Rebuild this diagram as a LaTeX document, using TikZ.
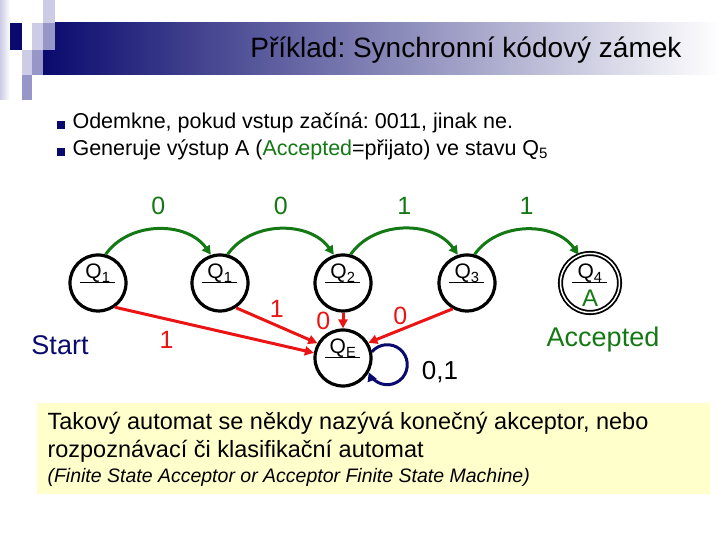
\documentclass[tikz,border=0pt]{standalone}
\usepackage{fontspec}
\setmainfont{Liberation Sans}
\usetikzlibrary{arrows.meta}

\definecolor{navy}{RGB}{10,10,110}
\definecolor{bandmid}{RGB}{175,175,200}
\definecolor{accgreen}{RGB}{20,120,20}
\definecolor{errred}{RGB}{235,20,20}
\definecolor{lav}{RGB}{204,204,230}
\definecolor{midlav}{RGB}{150,150,200}
\definecolor{notebg}{RGB}{255,255,204}
\newcommand{\fsz}[1]{\fontsize{#1}{#1}\selectfont}
\frenchspacing

\begin{document}
\begin{tikzpicture}[x=1pt,y=1pt,
    qstate/.style={circle,draw,line width=3.2pt,minimum size=56pt,inner sep=0pt},
    qtxt/.style={anchor=base,inner sep=0pt,font=\fsz{21}},
    gostep/.style={accgreen,line width=3pt,-{Triangle[length=9pt,width=9pt]}},
    failstep/.style={errred,line width=3pt,-{Triangle[length=9pt,width=9pt]}},
    glab/.style={text=accgreen,font=\fsz{25}},
    rlab/.style={text=errred,font=\fsz{25}},
    txt/.style={anchor=west,font=\fsz{21.5}}]

  \useasboundingbox (0,0) rectangle (720,540);

  % title band and squares
  \shade[left color=navy,middle color=bandmid,right color=white] (43,465) rectangle (720,517);
  \shade[left color=lav,right color=white] (0,540) rectangle (10,440);
  \fill[lav] (43,540) rectangle (55,517);
  \fill[navy] (10,517) rectangle (22,490);
  \fill[lav] (32,517) rectangle (43,490);
  \fill[midlav] (43,517) rectangle (55,490);
  \fill[lav] (22,490) rectangle (32,465);
  \fill[midlav] (32,490) rectangle (43,465);
  \fill[midlav] (22,465) rectangle (32,440);
  \node[anchor=east,font=\fsz{28}] (title) at (685,490) {Příklad: Synchronní kódový zámek};

  % bullets
  \node[fill=navy,minimum size=7.5pt,inner sep=0pt] (bul1) at (61,415) {};
  \node[txt] (b1) at (69,417) {Odemkne, pokud vstup začíná: 0011, jinak ne.};
  \node[fill=navy,minimum size=7.5pt,inner sep=0pt] (bul2) at (61,388) {};
  \node[txt] (b2) at (69,390) {Generuje výstup A (\textcolor{accgreen}{Accepted}=přijato) ve stavu Q\textsubscript{5}};

  % states
  \node[qstate] (q1a) at (98,257) {};
  \node[qstate] (q1b) at (220,257) {};
  \node[qstate] (q2) at (343,257) {};
  \node[qstate] (q3) at (467,257) {};
  \node[qstate,double,double distance=1.5pt,line width=1.8pt,minimum size=59pt] (q4) at (590,257) {};
  \node[qstate] (qe) at (343,182) {};
  \foreach \s/\n in {q1a/1,q1b/1,q2/2,q3/3,q4/4,qe/E} {
    \node[qtxt] (\s-txt) at ([yshift=4pt]\s.center) {Q\textsubscript{\n}};
    \draw[line width=1pt] ([xshift=-18pt]\s.center) -- ([xshift=17pt]\s.center);
  }
  \node[qtxt,text=accgreen,font=\fsz{24}] (q4out) at ([yshift=-24pt]q4.center) {A};

  % green steps
  \draw[gostep] (q1a.75) to[out=55,in=125] node[glab,above=10pt] (l1) {0} (q1b.108);
  \draw[gostep] (q1b.75) to[out=55,in=125] node[glab,above=10pt] (l2) {0} (q2.108);
  \draw[gostep] (q2.75) to[out=55,in=125] node[glab,above=10pt] (l3) {1} (q3.108);
  \draw[gostep] (q3.75) to[out=55,in=125] node[glab,above=10pt] (l4) {1} (q4.112);

  % red steps
  \draw[failstep] (q1a.-55) -- node[rlab,pos=.26,below=7pt] (f1) {1} (qe.170);
  \draw[failstep] (q1b.-57) -- node[rlab,midway,above=3pt] (f2) {1} (qe.150);
  \draw[failstep] (q2.south) -- node[rlab,midway,left=8pt] (f3) {0} (qe.north);
  \draw[failstep] (q3.-119) -- node[rlab,pos=.62,above] (f4) {0} (qe.31);

  % loop
  \draw[navy,line width=3pt,-{Triangle[length=9pt,width=9pt]}] (qe.12) arc[start angle=140,end angle=-158,radius=20];
  \node[font=\fsz{26}] (loopl) at (440,168) {0,1};

  \node[font=\fsz{27},text=navy] (start) at (60,195) {Start};
  \node[font=\fsz{27},text=accgreen] (acc) at (603,200) {Accepted};

  % note
  \fill[notebg] (37,137) rectangle (710,46);
  \node[anchor=west,font=\fsz{23.5}] (note1) at (44,117) {Takový automat se někdy nazývá konečný akceptor, nebo};
  \node[anchor=west,font=\fsz{23.5}] (note2) at (44,89) {rozpoznávací či klasifikační automat};
  \node[anchor=west,font=\fsz{19.5}\itshape] (note3) at (44,63) {(Finite State Acceptor or Acceptor Finite State Machine)};
\end{tikzpicture}
\end{document}
